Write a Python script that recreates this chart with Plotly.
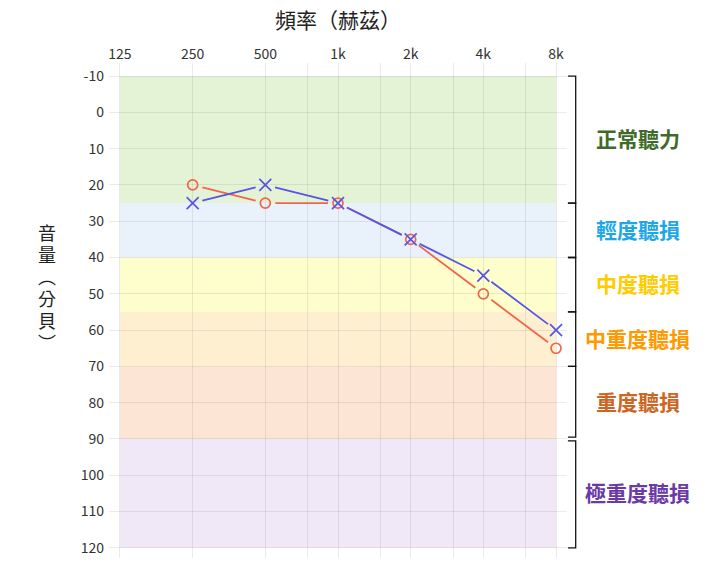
import numpy as np
import plotly.graph_objects as go

# frequencies (Hz) and hearing thresholds (dB)
freq_hz = [250, 500, 1000, 2000, 4000, 8000]
right_ear = [20, 25, 25, 35, 50, 65]
left_ear = [25, 20, 25, 35, 45, 60]

# axis ticks
major_hz = [125, 250, 500, 1000, 2000, 4000, 8000]
major_labels = ["125", "250", "500", "1k", "2k", "4k", "8k"]
minor_hz = [750, 1500, 3000, 6000]
db_ticks = list(range(-10, 121, 10))

# hearing-loss bands
band_lo = [-10, 25, 40, 55, 70, 90]
band_hi = [25, 40, 55, 70, 90, 120]
band_names = ["正常聽力", "輕度聽損", "中度聽損", "中重度聽損", "重度聽損", "極重度聽損"]

band_fill = ["#e4f3d5", "#e9f1fb", "#fefdcc", "#feefd0", "#fde5d6", "#f0e8f7"]
band_text = ["#3f6b2a", "#1ea7e6", "#ffcc00", "#ff9900", "#cc6622", "#6a3aa8"]
RED = "#f0654c"
BLUE = "#5656e3"
FONT = "Noto Sans CJK TC"

y_title_chars = ["音", "量", "︵", "分", "貝", "︶"]


def oct(f):
    return np.log2(np.asarray(f, dtype=float) / 125.0)


# px per unit, used to leave a small gap between the line and markers
PX_X = 72.67
PX_Y = 3.628
GAP = 10


def gapped(xs, ys):
    xs = oct(xs)
    ys = np.asarray(ys, dtype=float)
    out_x, out_y = [], []
    for i in range(len(xs) - 1):
        dx = (xs[i + 1] - xs[i]) * PX_X
        dy = (ys[i + 1] - ys[i]) * PX_Y
        t = GAP / np.hypot(dx, dy)
        out_x += [xs[i] + (xs[i + 1] - xs[i]) * t, xs[i + 1] - (xs[i + 1] - xs[i]) * t, None]
        out_y += [ys[i] + (ys[i + 1] - ys[i]) * t, ys[i + 1] - (ys[i + 1] - ys[i]) * t, None]
    return out_x, out_y


fig = go.Figure()

for vals, color, sym, size in [(right_ear, RED, "circle-open", 10),
                               (left_ear, BLUE, "x-thin-open", 12)]:
    gx, gy = gapped(freq_hz, vals)
    fig.add_trace(go.Scatter(x=gx, y=gy, mode="lines",
                             line=dict(color=color, width=1.8),
                             hoverinfo="skip", showlegend=False))
    fig.add_trace(go.Scatter(x=oct(freq_hz), y=vals, mode="markers",
                             marker=dict(symbol=sym, size=size, color=color,
                                         line=dict(color=color, width=1.7)),
                             showlegend=False))

shapes = []
annotations = []
for i in range(len(band_lo)):
    shapes.append(dict(type="rect", xref="x", yref="y", layer="below",
                       x0=0, x1=6, y0=band_lo[i], y1=band_hi[i],
                       fillcolor=band_fill[i], line_width=0))
    top = band_lo[i] + (0.5 if band_lo[i] == 90 else 0)
    bot = band_hi[i] - (0.5 if band_hi[i] == 90 else 0)
    shapes.append(dict(type="path", xref="paper", yref="y",
                       path=f"M 1.002 {top} L 1.019 {top} L 1.019 {bot} L 1.002 {bot}",
                       line=dict(color="#111111", width=1.3)))
    annotations.append(dict(xref="paper", yref="y", x=1.155, xanchor="center",
                            y=(band_lo[i] + band_hi[i]) / 2 - 0.4, yanchor="middle",
                            text=f"<b>{band_names[i]}</b>", showarrow=False,
                            font=dict(family=FONT, size=21, color=band_text[i])))

annotations.append(dict(xref="paper", yref="paper", x=0.5, xanchor="center",
                        y=1.0, yshift=44, yanchor="middle",
                        text="頻率（赫茲）", showarrow=False,
                        font=dict(family=FONT, size=21, color="#222222")))

# vertical axis title, one character per row
for k, ch in enumerate(y_title_chars):
    annotations.append(dict(xref="paper", yref="y", x=-0.135, xanchor="center",
                            y=48.2, yanchor="middle", yshift=-(k - 2.5) * 22,
                            text=ch, showarrow=False,
                            font=dict(family=FONT, size=18, color="#222222")))

tick_x = list(oct(major_hz)) + list(oct(minor_hz))
tick_t = major_labels + [""] * len(minor_hz)

# page body adds an 8px offset, so the figure is 8px smaller and margins shifted
fig.update_layout(
    width=710, height=567,
    margin=dict(l=101, r=151, t=55, b=17, autoexpand=False),
    plot_bgcolor="white", paper_bgcolor="white",
    font=dict(family=FONT, size=14, color="#333333"),
    shapes=shapes, annotations=annotations,
    xaxis=dict(side="top", range=[-0.151, 6.151], tickvals=tick_x, ticktext=tick_t,
               showgrid=True, gridcolor="rgba(0,0,0,0.08)", gridwidth=1,
               zeroline=False, showline=False, ticks="", fixedrange=True),
    yaxis=dict(range=[122.8, -13.6], tickvals=db_ticks,
               ticktext=[str(v) for v in db_ticks],
               showgrid=True, gridcolor="rgba(0,0,0,0.08)", gridwidth=1,
               zeroline=False, showline=False, ticks="", ticklabelstandoff=4,
               fixedrange=True),
)

fig.write_html("out.html")
